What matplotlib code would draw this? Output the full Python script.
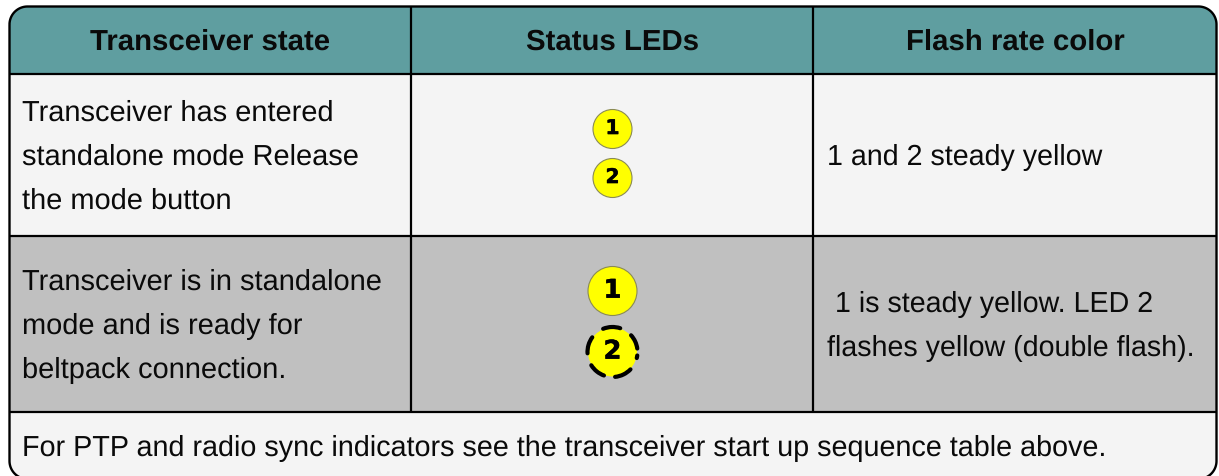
import numpy as np
import matplotlib
matplotlib.use("Agg")
import matplotlib.pyplot as plt
import matplotlib.patheffects as pe
from matplotlib.patches import Rectangle, Circle, Polygon, Arc

headers = ["Transceiver state", "Status LEDs", "Flash rate color"]
state_lines = [["Transceiver has entered", "standalone mode Release", "the mode button"],
               ["Transceiver is in standalone", "mode and is ready for", "beltpack connection."]]
flash_lines = [["1 and 2 steady yellow"],
               [" 1 is steady yellow. LED 2", "flashes yellow (double flash)."]]
led_labels = ["1", "2"]
footer = "For PTP and radio sync indicators see the transceiver start up sequence table above."

plt.rcParams["font.family"] = ["Liberation Sans"]
plt.rcParams["text.hinting"] = "no_hinting"

W, H = 1219, 476
fig = plt.figure(figsize=(W/100, H/100), dpi=100)
ax = fig.add_axes([0, 0, 1, 1])
ax.set_xlim(0, W); ax.set_ylim(H, 0); ax.axis("off")

L, R, T, B = 9.5, 1216.5, 6.5, 479
X1, X2 = 411, 813
Y1, Y2, Y3 = 74, 236, 411.5
RAD = 18

def rounded_outline():
    pts = []
    for cx, cy, a0 in [(L+RAD, T+RAD, 180), (R-RAD, T+RAD, 270), (R-RAD, B-RAD, 0), (L+RAD, B-RAD, 90)]:
        t = np.radians(np.linspace(a0, a0+90, 24))
        pts.append(np.column_stack([cx + RAD*np.cos(t), cy + RAD*np.sin(t)]))
    return np.vstack(pts)

outline = rounded_outline()
clip = Polygon(outline, closed=True, fc="none", ec="none", transform=ax.transData)
ax.add_patch(clip)
for y0, y1, c in [(T, Y1, "#5f9ea0"), (Y1, Y2, "#f4f4f4"), (Y2, Y3, "#c0c0c0"), (Y3, B, "#f4f4f4")]:
    r = Rectangle((L, y0), R-L, y1-y0, fc=c, ec="none", zorder=1)
    ax.add_patch(r); r.set_clip_path(clip)
lw = 1.6
for y in (Y1, Y2, Y3):
    ax.plot([L, R], [y, y], color="#000000", lw=lw, zorder=2, solid_capstyle="butt")
ax.plot([X1, X1], [T, Y3], color="#000000", lw=lw, zorder=2, solid_capstyle="butt")
ax.plot([X2, X2], [T, Y3], color="#000000", lw=lw, zorder=2, solid_capstyle="butt")
ax.add_patch(Polygon(outline, closed=True, fc="none", ec="#000000", lw=1.7, zorder=3))

FS_STATE, FS_FLASH, FS_FOOT, FSH = 20.9, 20.6, 20.7, 21.2
INK = "#0a0a0a"
for x, t in zip([210, 612.5, 1015.5], headers):
    ax.text(x, 39.5, t, ha="center", va="center_baseline", fontsize=FSH, fontweight="bold", color=INK, zorder=4)
for lines, ys in zip(state_lines, [[110.5, 154.5, 198.5], [279.5, 323.5, 367.5]]):
    for y, t in zip(ys, lines):
        ax.text(22, y, t, ha="left", va="center_baseline", fontsize=FS_STATE, color=INK, zorder=4)
for lines, ys in zip(flash_lines, [[154.5], [301.5, 345.5]]):
    for y, t in zip(ys, lines):
        ax.text(827, y, t, ha="left", va="center_baseline", fontsize=FS_FLASH, color=INK, zorder=4)
ax.text(22, 445.5, footer, ha="left", va="center_baseline", fontsize=FS_FOOT, color=INK, zorder=4)

CX = 612.5
DASHES = [(-112, -72), (-42, -8), (8, 14), (44, 84), (110, 148), (177, 216)]
for cy, r, fs, lab, d in [(129, 19.5, 14.5, led_labels[0], False), (178, 19.5, 14.5, led_labels[1], False),
                          (291, 24.5, 18.5, led_labels[0], False), (352, 24.5, 18.5, led_labels[1], True)]:
    if d:
        ax.add_patch(Circle((CX, cy), r, fc="#ffff00", ec="none", zorder=4))
        for a, b in DASHES:
            ax.add_patch(Arc((CX, cy), 2*(r+0.5), 2*(r+0.5), theta1=a, theta2=b, color="#000000",
                             lw=3.0, zorder=5, capstyle="round"))
    else:
        ax.add_patch(Circle((CX, cy), r, fc="#ffff00", ec="#8a8a55", lw=0.8, zorder=4))
    ax.text(CX, cy - 0.5, lab, ha="center", va="center", fontsize=fs, fontweight="bold",
            family="DejaVu Sans", color="#000000", zorder=6,
            path_effects=[pe.withStroke(linewidth=0.4, foreground="#000000")])

fig.savefig("out.png", dpi=100, facecolor="white")
